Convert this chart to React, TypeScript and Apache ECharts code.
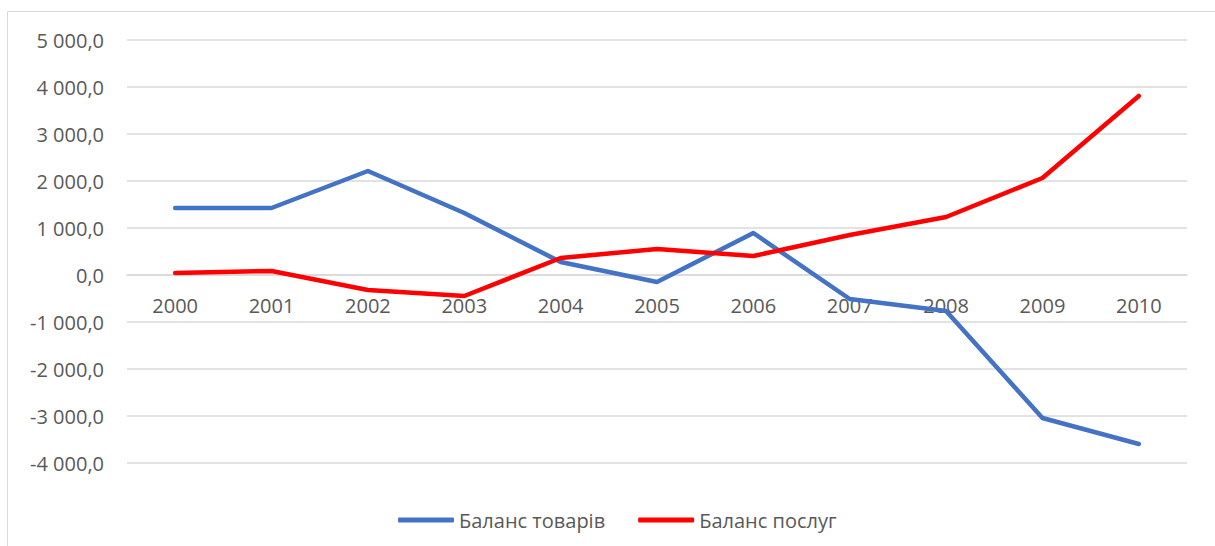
import React, { useEffect, useRef } from "react";
import * as echarts from "echarts";

const years = ["2000", "2001", "2002", "2003", "2004", "2005", "2006", "2007", "2008", "2009", "2010"];
const goodsBalance = [1426, 1426, 2213, 1319, 277, -149, 894, -511, -766, -3043, -3596];
const servicesBalance = [43, 85, -319, -447, 362, 553, 404, 851, 1234, 2064, 3809];
const seriesNames = ["Баланс товарів", "Баланс послуг"];

const fmt = (v: number) => {
  const neg = v < 0;
  const s = Math.abs(v).toFixed(1);
  const [i, d] = s.split(".");
  const g = i.replace(/\B(?=(\d{3})+(?!\d))/g, " ");
  return (neg ? "-" : "") + g + "," + d;
};

export default function App() {
  const ref = useRef<HTMLDivElement>(null);
  useEffect(() => {
    document.body.style.margin = "0";
    const chart = echarts.init(ref.current!, null, { renderer: "svg" });
    const font = "'Open Sans', 'Noto Sans', sans-serif";
    chart.setOption({
      animation: false,
      backgroundColor: "#ffffff",
      textStyle: { fontFamily: font },
      graphic: [
        {
          type: "rect",
          shape: { x: 7.5, y: 11.5, width: 1400, height: 700 },
          style: { fill: "none", stroke: "#d9d9d9", lineWidth: 1 },
          silent: true,
        },
      ],
      grid: { left: 127, right: 28, top: 40, bottom: 83 },
      legend: {
        data: seriesNames,
        left: 393,
        top: 505,
        icon: "roundRect",
        itemWidth: 56,
        itemHeight: 5,
        itemGap: 33,
        textStyle: { color: "#595959", fontSize: 20, fontFamily: font },
      },
      xAxis: {
        type: "category",
        data: years,
        boundaryGap: true,
        offset: -188,
        axisLine: { onZero: false, lineStyle: { color: "#d9d9d9", width: 1.5 } },
        axisTick: { show: false },
        axisLabel: { color: "#595959", fontSize: 20, margin: 20, fontFamily: font },
      },
      yAxis: {
        type: "value",
        min: -4000,
        max: 5000,
        interval: 1000,
        axisLine: { show: false },
        axisTick: { show: false },
        splitLine: { lineStyle: { color: "#d9d9d9", width: 1.5 } },
        axisLabel: { color: "#595959", fontSize: 20, margin: 23, formatter: fmt, fontFamily: font },
      },
      series: [
        {
          name: seriesNames[0],
          type: "line",
          data: goodsBalance,
          symbol: "none",
          z: 3,
          lineStyle: { color: "#4472C4", width: 4.5, cap: "round", join: "round" },
          itemStyle: { color: "#4472C4" },
        },
        {
          name: seriesNames[1],
          type: "line",
          data: servicesBalance,
          symbol: "none",
          z: 3,
          lineStyle: { color: "#FF0000", width: 4.5, cap: "round", join: "round" },
          itemStyle: { color: "#FF0000" },
        },
      ],
    });
    return () => chart.dispose();
  }, []);
  return <div ref={ref} style={{ width: 1215, height: 546 }} />;
}
